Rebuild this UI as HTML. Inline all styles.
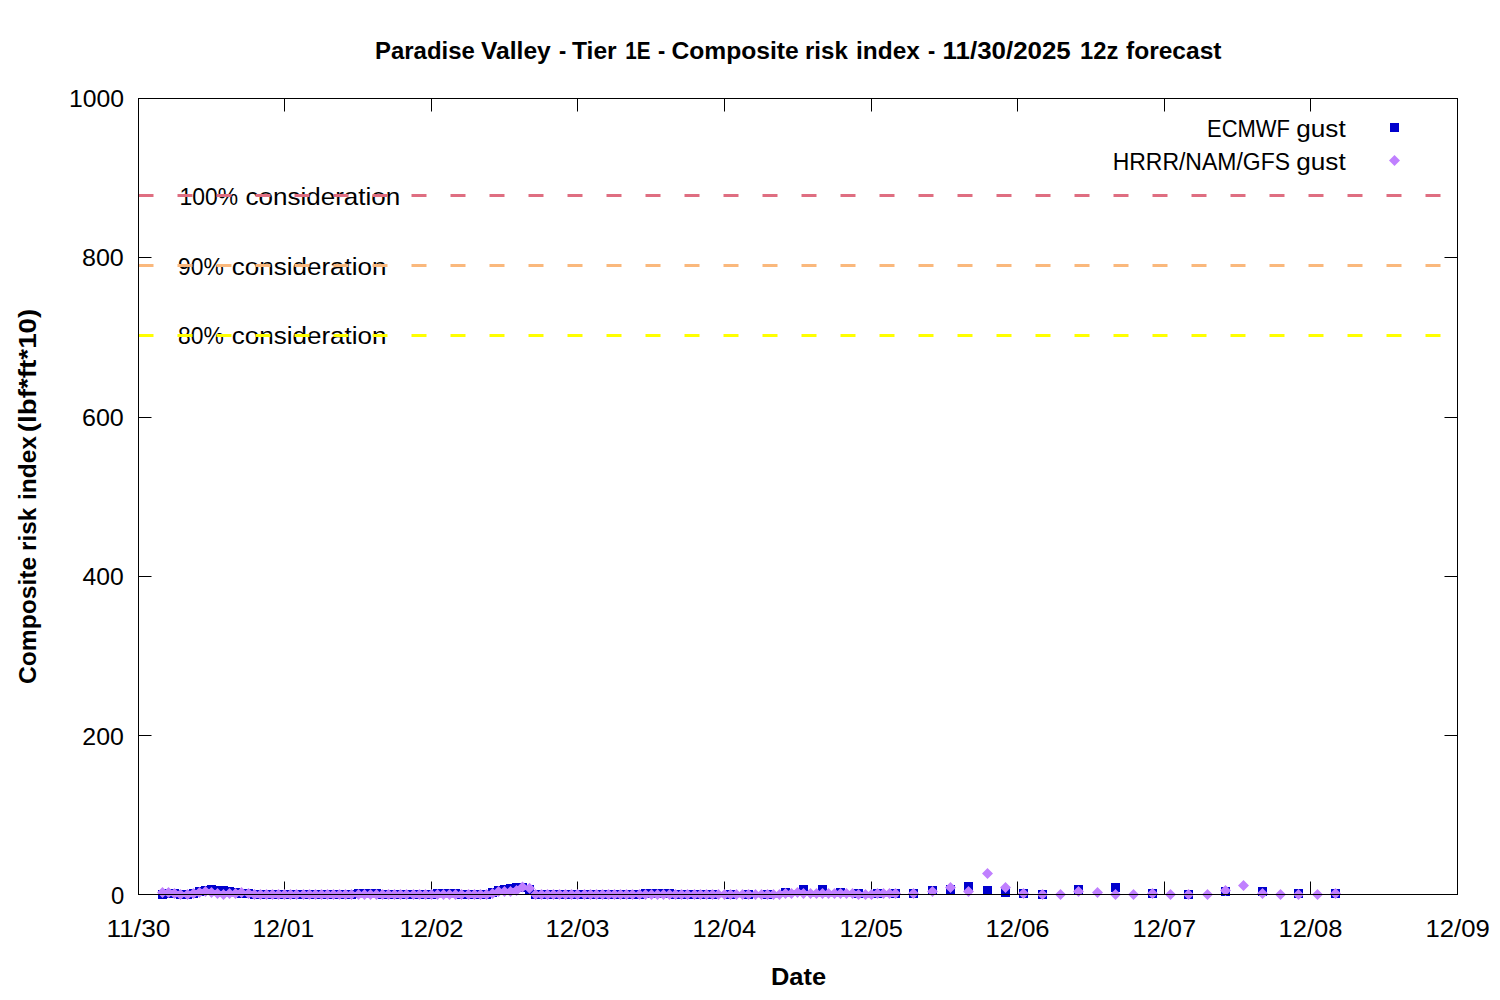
<!DOCTYPE html>
<html><head><meta charset="utf-8"><title>Composite risk index</title>
<style>
html,body{margin:0;padding:0;background:#fff;}
svg{display:block;font-family:"Liberation Sans",sans-serif;fill:#000;}
</style></head><body>
<svg width="1500" height="1000" viewBox="0 0 1500 1000">
<rect width="1500" height="1000" fill="#fff"/>
<g><text x="179.58" y="204.6" font-size="24.8" textLength="58.47" lengthAdjust="spacingAndGlyphs">100%</text><text x="245.45" y="204.6" font-size="24.8" textLength="154.88" lengthAdjust="spacingAndGlyphs">consideration</text><text x="178.08" y="274.6" font-size="24.8" textLength="45.66" lengthAdjust="spacingAndGlyphs">90%</text><text x="231.75" y="274.6" font-size="24.8" textLength="154.78" lengthAdjust="spacingAndGlyphs">consideration</text><text x="178.08" y="344.4" font-size="24.8" textLength="45.66" lengthAdjust="spacingAndGlyphs">80%</text><text x="231.75" y="344.4" font-size="24.8" textLength="154.78" lengthAdjust="spacingAndGlyphs">consideration</text></g>
<path d="M138.5 195.5H1457.5" stroke="#df6e81" stroke-width="3" stroke-dasharray="15 24" fill="none"/><path d="M138.5 265.5H1457.5" stroke="#fab87c" stroke-width="3" stroke-dasharray="15 24" fill="none"/><path d="M138.5 335.5H1457.5" stroke="#ffff00" stroke-width="3" stroke-dasharray="15 24" fill="none"/>
<path stroke="#000" stroke-width="1" fill="none" d="M284.50 894.5v-13M284.50 98.5v13M431.50 894.5v-13M431.50 98.5v13M577.50 894.5v-13M577.50 98.5v13M724.50 894.5v-13M724.50 98.5v13M871.50 894.5v-13M871.50 98.5v13M1017.50 894.5v-13M1017.50 98.5v13M1164.50 894.5v-13M1164.50 98.5v13M1310.50 894.5v-13M1310.50 98.5v13M138.5 735.50h13M1457.5 735.50h-13M138.5 576.50h13M1457.5 576.50h-13M138.5 417.50h13M1457.5 417.50h-13M138.5 257.50h13M1457.5 257.50h-13"/>
<g fill="#0000cd"><rect x="158" y="890" width="9" height="9"/><rect x="164" y="889" width="9" height="9"/><rect x="170" y="889" width="9" height="9"/><rect x="176" y="890" width="9" height="9"/><rect x="183" y="890" width="9" height="9"/><rect x="189" y="889" width="9" height="9"/><rect x="195" y="887" width="9" height="9"/><rect x="201" y="886" width="9" height="9"/><rect x="207" y="885" width="9" height="9"/><rect x="213" y="886" width="9" height="9"/><rect x="219" y="886" width="9" height="9"/><rect x="225" y="887" width="9" height="9"/><rect x="231" y="888" width="9" height="9"/><rect x="237" y="889" width="9" height="9"/><rect x="244" y="889" width="9" height="9"/><rect x="250" y="890" width="9" height="9"/><rect x="256" y="890" width="9" height="9"/><rect x="262" y="890" width="9" height="9"/><rect x="268" y="890" width="9" height="9"/><rect x="274" y="890" width="9" height="9"/><rect x="280" y="890" width="9" height="9"/><rect x="286" y="890" width="9" height="9"/><rect x="292" y="890" width="9" height="9"/><rect x="299" y="890" width="9" height="9"/><rect x="305" y="890" width="9" height="9"/><rect x="311" y="890" width="9" height="9"/><rect x="317" y="890" width="9" height="9"/><rect x="323" y="890" width="9" height="9"/><rect x="329" y="890" width="9" height="9"/><rect x="335" y="890" width="9" height="9"/><rect x="341" y="890" width="9" height="9"/><rect x="347" y="890" width="9" height="9"/><rect x="354" y="889" width="9" height="9"/><rect x="360" y="889" width="9" height="9"/><rect x="366" y="889" width="9" height="9"/><rect x="372" y="889" width="9" height="9"/><rect x="378" y="890" width="9" height="9"/><rect x="384" y="890" width="9" height="9"/><rect x="390" y="890" width="9" height="9"/><rect x="396" y="890" width="9" height="9"/><rect x="402" y="890" width="9" height="9"/><rect x="409" y="890" width="9" height="9"/><rect x="415" y="890" width="9" height="9"/><rect x="421" y="890" width="9" height="9"/><rect x="427" y="890" width="9" height="9"/><rect x="433" y="889" width="9" height="9"/><rect x="439" y="889" width="9" height="9"/><rect x="445" y="889" width="9" height="9"/><rect x="451" y="889" width="9" height="9"/><rect x="457" y="890" width="9" height="9"/><rect x="464" y="890" width="9" height="9"/><rect x="470" y="890" width="9" height="9"/><rect x="476" y="890" width="9" height="9"/><rect x="482" y="890" width="9" height="9"/><rect x="488" y="888" width="9" height="9"/><rect x="494" y="886" width="9" height="9"/><rect x="500" y="885" width="9" height="9"/><rect x="506" y="884" width="9" height="9"/><rect x="512" y="883" width="9" height="9"/><rect x="518" y="883" width="9" height="9"/><rect x="525" y="885" width="9" height="9"/><rect x="531" y="890" width="9" height="9"/><rect x="537" y="890" width="9" height="9"/><rect x="543" y="890" width="9" height="9"/><rect x="549" y="890" width="9" height="9"/><rect x="555" y="890" width="9" height="9"/><rect x="561" y="890" width="9" height="9"/><rect x="567" y="890" width="9" height="9"/><rect x="573" y="890" width="9" height="9"/><rect x="580" y="890" width="9" height="9"/><rect x="586" y="890" width="9" height="9"/><rect x="592" y="890" width="9" height="9"/><rect x="598" y="890" width="9" height="9"/><rect x="604" y="890" width="9" height="9"/><rect x="610" y="890" width="9" height="9"/><rect x="616" y="890" width="9" height="9"/><rect x="622" y="890" width="9" height="9"/><rect x="628" y="890" width="9" height="9"/><rect x="635" y="890" width="9" height="9"/><rect x="641" y="889" width="9" height="9"/><rect x="647" y="889" width="9" height="9"/><rect x="653" y="889" width="9" height="9"/><rect x="659" y="889" width="9" height="9"/><rect x="665" y="889" width="9" height="9"/><rect x="671" y="890" width="9" height="9"/><rect x="677" y="890" width="9" height="9"/><rect x="683" y="890" width="9" height="9"/><rect x="690" y="890" width="9" height="9"/><rect x="696" y="890" width="9" height="9"/><rect x="702" y="890" width="9" height="9"/><rect x="708" y="890" width="9" height="9"/><rect x="726" y="890" width="9" height="9"/><rect x="744" y="890" width="9" height="9"/><rect x="763" y="890" width="9" height="9"/><rect x="781" y="888" width="9" height="9"/><rect x="799" y="885" width="9" height="9"/><rect x="818" y="885" width="9" height="9"/><rect x="836" y="888" width="9" height="9"/><rect x="854" y="889" width="9" height="9"/><rect x="873" y="889" width="9" height="9"/><rect x="891" y="889" width="9" height="9"/><rect x="909" y="889" width="9" height="9"/><rect x="928" y="886" width="9" height="9"/><rect x="946" y="885" width="9" height="9"/><rect x="964" y="882" width="9" height="9"/><rect x="983" y="886" width="9" height="9"/><rect x="1001" y="888" width="9" height="9"/><rect x="1019" y="889" width="9" height="9"/><rect x="1038" y="890" width="9" height="9"/><rect x="1074" y="885" width="9" height="9"/><rect x="1111" y="883" width="9" height="9"/><rect x="1148" y="889" width="9" height="9"/><rect x="1184" y="890" width="9" height="9"/><rect x="1221" y="887" width="9" height="9"/><rect x="1258" y="887" width="9" height="9"/><rect x="1294" y="889" width="9" height="9"/><rect x="1331" y="889" width="9" height="9"/></g>
<path fill="#c080ff" d="M162.50 887.00l5.5 5.5l-5.5 5.5l-5.5 -5.5zM168.50 887.00l5.5 5.5l-5.5 5.5l-5.5 -5.5zM174.50 888.00l5.5 5.5l-5.5 5.5l-5.5 -5.5zM180.50 889.00l5.5 5.5l-5.5 5.5l-5.5 -5.5zM187.50 889.00l5.5 5.5l-5.5 5.5l-5.5 -5.5zM193.50 888.00l5.5 5.5l-5.5 5.5l-5.5 -5.5zM199.50 887.00l5.5 5.5l-5.5 5.5l-5.5 -5.5zM205.50 886.00l5.5 5.5l-5.5 5.5l-5.5 -5.5zM211.50 887.00l5.5 5.5l-5.5 5.5l-5.5 -5.5zM217.50 888.00l5.5 5.5l-5.5 5.5l-5.5 -5.5zM223.50 889.00l5.5 5.5l-5.5 5.5l-5.5 -5.5zM229.50 888.00l5.5 5.5l-5.5 5.5l-5.5 -5.5zM235.50 888.00l5.5 5.5l-5.5 5.5l-5.5 -5.5zM241.50 887.00l5.5 5.5l-5.5 5.5l-5.5 -5.5zM248.50 888.00l5.5 5.5l-5.5 5.5l-5.5 -5.5zM254.50 889.00l5.5 5.5l-5.5 5.5l-5.5 -5.5zM260.50 889.00l5.5 5.5l-5.5 5.5l-5.5 -5.5zM266.50 889.00l5.5 5.5l-5.5 5.5l-5.5 -5.5zM272.50 889.00l5.5 5.5l-5.5 5.5l-5.5 -5.5zM278.50 889.00l5.5 5.5l-5.5 5.5l-5.5 -5.5zM284.50 889.00l5.5 5.5l-5.5 5.5l-5.5 -5.5zM290.50 889.00l5.5 5.5l-5.5 5.5l-5.5 -5.5zM296.50 889.00l5.5 5.5l-5.5 5.5l-5.5 -5.5zM303.50 889.00l5.5 5.5l-5.5 5.5l-5.5 -5.5zM309.50 889.00l5.5 5.5l-5.5 5.5l-5.5 -5.5zM315.50 889.00l5.5 5.5l-5.5 5.5l-5.5 -5.5zM321.50 889.00l5.5 5.5l-5.5 5.5l-5.5 -5.5zM327.50 889.00l5.5 5.5l-5.5 5.5l-5.5 -5.5zM333.50 889.00l5.5 5.5l-5.5 5.5l-5.5 -5.5zM339.50 889.00l5.5 5.5l-5.5 5.5l-5.5 -5.5zM345.50 889.00l5.5 5.5l-5.5 5.5l-5.5 -5.5zM351.50 889.00l5.5 5.5l-5.5 5.5l-5.5 -5.5zM358.50 889.00l5.5 5.5l-5.5 5.5l-5.5 -5.5zM364.50 889.00l5.5 5.5l-5.5 5.5l-5.5 -5.5zM370.50 889.00l5.5 5.5l-5.5 5.5l-5.5 -5.5zM376.50 889.00l5.5 5.5l-5.5 5.5l-5.5 -5.5zM382.50 889.00l5.5 5.5l-5.5 5.5l-5.5 -5.5zM388.50 889.00l5.5 5.5l-5.5 5.5l-5.5 -5.5zM394.50 889.00l5.5 5.5l-5.5 5.5l-5.5 -5.5zM400.50 889.00l5.5 5.5l-5.5 5.5l-5.5 -5.5zM406.50 889.00l5.5 5.5l-5.5 5.5l-5.5 -5.5zM413.50 889.00l5.5 5.5l-5.5 5.5l-5.5 -5.5zM419.50 889.00l5.5 5.5l-5.5 5.5l-5.5 -5.5zM425.50 889.00l5.5 5.5l-5.5 5.5l-5.5 -5.5zM431.50 889.00l5.5 5.5l-5.5 5.5l-5.5 -5.5zM437.50 889.00l5.5 5.5l-5.5 5.5l-5.5 -5.5zM443.50 889.00l5.5 5.5l-5.5 5.5l-5.5 -5.5zM449.50 889.00l5.5 5.5l-5.5 5.5l-5.5 -5.5zM455.50 889.00l5.5 5.5l-5.5 5.5l-5.5 -5.5zM461.50 889.00l5.5 5.5l-5.5 5.5l-5.5 -5.5zM468.50 889.00l5.5 5.5l-5.5 5.5l-5.5 -5.5zM474.50 889.00l5.5 5.5l-5.5 5.5l-5.5 -5.5zM480.50 889.00l5.5 5.5l-5.5 5.5l-5.5 -5.5zM486.50 889.00l5.5 5.5l-5.5 5.5l-5.5 -5.5zM492.50 888.00l5.5 5.5l-5.5 5.5l-5.5 -5.5zM498.50 886.00l5.5 5.5l-5.5 5.5l-5.5 -5.5zM504.50 886.00l5.5 5.5l-5.5 5.5l-5.5 -5.5zM510.50 886.00l5.5 5.5l-5.5 5.5l-5.5 -5.5zM516.50 885.00l5.5 5.5l-5.5 5.5l-5.5 -5.5zM522.50 881.40l5.5 5.5l-5.5 5.5l-5.5 -5.5zM529.50 882.70l5.5 5.5l-5.5 5.5l-5.5 -5.5zM535.50 889.00l5.5 5.5l-5.5 5.5l-5.5 -5.5zM541.50 889.00l5.5 5.5l-5.5 5.5l-5.5 -5.5zM547.50 889.00l5.5 5.5l-5.5 5.5l-5.5 -5.5zM553.50 889.00l5.5 5.5l-5.5 5.5l-5.5 -5.5zM559.50 889.00l5.5 5.5l-5.5 5.5l-5.5 -5.5zM565.50 889.00l5.5 5.5l-5.5 5.5l-5.5 -5.5zM571.50 889.00l5.5 5.5l-5.5 5.5l-5.5 -5.5zM577.50 889.00l5.5 5.5l-5.5 5.5l-5.5 -5.5zM584.50 889.00l5.5 5.5l-5.5 5.5l-5.5 -5.5zM590.50 889.00l5.5 5.5l-5.5 5.5l-5.5 -5.5zM596.50 889.00l5.5 5.5l-5.5 5.5l-5.5 -5.5zM602.50 889.00l5.5 5.5l-5.5 5.5l-5.5 -5.5zM608.50 889.00l5.5 5.5l-5.5 5.5l-5.5 -5.5zM614.50 889.00l5.5 5.5l-5.5 5.5l-5.5 -5.5zM620.50 889.00l5.5 5.5l-5.5 5.5l-5.5 -5.5zM626.50 889.00l5.5 5.5l-5.5 5.5l-5.5 -5.5zM632.50 889.00l5.5 5.5l-5.5 5.5l-5.5 -5.5zM639.50 889.00l5.5 5.5l-5.5 5.5l-5.5 -5.5zM645.50 889.00l5.5 5.5l-5.5 5.5l-5.5 -5.5zM651.50 889.00l5.5 5.5l-5.5 5.5l-5.5 -5.5zM657.50 889.00l5.5 5.5l-5.5 5.5l-5.5 -5.5zM663.50 889.00l5.5 5.5l-5.5 5.5l-5.5 -5.5zM669.50 889.00l5.5 5.5l-5.5 5.5l-5.5 -5.5zM675.50 889.00l5.5 5.5l-5.5 5.5l-5.5 -5.5zM681.50 889.00l5.5 5.5l-5.5 5.5l-5.5 -5.5zM687.50 889.00l5.5 5.5l-5.5 5.5l-5.5 -5.5zM694.50 889.00l5.5 5.5l-5.5 5.5l-5.5 -5.5zM700.50 889.00l5.5 5.5l-5.5 5.5l-5.5 -5.5zM706.50 889.00l5.5 5.5l-5.5 5.5l-5.5 -5.5zM712.50 889.00l5.5 5.5l-5.5 5.5l-5.5 -5.5zM718.50 889.00l5.5 5.5l-5.5 5.5l-5.5 -5.5zM724.50 889.00l5.5 5.5l-5.5 5.5l-5.5 -5.5zM730.50 889.00l5.5 5.5l-5.5 5.5l-5.5 -5.5zM736.50 889.00l5.5 5.5l-5.5 5.5l-5.5 -5.5zM742.50 889.00l5.5 5.5l-5.5 5.5l-5.5 -5.5zM748.50 889.00l5.5 5.5l-5.5 5.5l-5.5 -5.5zM755.50 889.00l5.5 5.5l-5.5 5.5l-5.5 -5.5zM761.50 889.00l5.5 5.5l-5.5 5.5l-5.5 -5.5zM767.50 889.00l5.5 5.5l-5.5 5.5l-5.5 -5.5zM773.50 889.00l5.5 5.5l-5.5 5.5l-5.5 -5.5zM779.50 889.00l5.5 5.5l-5.5 5.5l-5.5 -5.5zM785.50 888.00l5.5 5.5l-5.5 5.5l-5.5 -5.5zM791.50 888.00l5.5 5.5l-5.5 5.5l-5.5 -5.5zM797.50 887.00l5.5 5.5l-5.5 5.5l-5.5 -5.5zM803.50 888.00l5.5 5.5l-5.5 5.5l-5.5 -5.5zM810.50 888.00l5.5 5.5l-5.5 5.5l-5.5 -5.5zM816.50 888.00l5.5 5.5l-5.5 5.5l-5.5 -5.5zM822.50 888.00l5.5 5.5l-5.5 5.5l-5.5 -5.5zM828.50 888.00l5.5 5.5l-5.5 5.5l-5.5 -5.5zM834.50 888.00l5.5 5.5l-5.5 5.5l-5.5 -5.5zM840.50 888.00l5.5 5.5l-5.5 5.5l-5.5 -5.5zM846.50 888.00l5.5 5.5l-5.5 5.5l-5.5 -5.5zM852.50 888.00l5.5 5.5l-5.5 5.5l-5.5 -5.5zM858.50 889.00l5.5 5.5l-5.5 5.5l-5.5 -5.5zM865.50 889.00l5.5 5.5l-5.5 5.5l-5.5 -5.5zM871.50 889.00l5.5 5.5l-5.5 5.5l-5.5 -5.5zM877.50 888.00l5.5 5.5l-5.5 5.5l-5.5 -5.5zM883.50 888.00l5.5 5.5l-5.5 5.5l-5.5 -5.5zM889.50 888.00l5.5 5.5l-5.5 5.5l-5.5 -5.5zM895.50 888.00l5.5 5.5l-5.5 5.5l-5.5 -5.5zM913.50 888.00l5.5 5.5l-5.5 5.5l-5.5 -5.5zM932.50 886.00l5.5 5.5l-5.5 5.5l-5.5 -5.5zM950.50 882.00l5.5 5.5l-5.5 5.5l-5.5 -5.5zM968.50 886.00l5.5 5.5l-5.5 5.5l-5.5 -5.5zM987.50 868.00l5.5 5.5l-5.5 5.5l-5.5 -5.5zM1005.50 882.00l5.5 5.5l-5.5 5.5l-5.5 -5.5zM1023.50 888.00l5.5 5.5l-5.5 5.5l-5.5 -5.5zM1042.50 889.00l5.5 5.5l-5.5 5.5l-5.5 -5.5zM1060.50 889.00l5.5 5.5l-5.5 5.5l-5.5 -5.5zM1078.50 886.00l5.5 5.5l-5.5 5.5l-5.5 -5.5zM1097.50 887.00l5.5 5.5l-5.5 5.5l-5.5 -5.5zM1115.50 889.00l5.5 5.5l-5.5 5.5l-5.5 -5.5zM1133.50 889.00l5.5 5.5l-5.5 5.5l-5.5 -5.5zM1152.50 888.00l5.5 5.5l-5.5 5.5l-5.5 -5.5zM1170.50 889.00l5.5 5.5l-5.5 5.5l-5.5 -5.5zM1188.50 889.00l5.5 5.5l-5.5 5.5l-5.5 -5.5zM1207.50 889.00l5.5 5.5l-5.5 5.5l-5.5 -5.5zM1225.50 885.00l5.5 5.5l-5.5 5.5l-5.5 -5.5zM1243.50 880.00l5.5 5.5l-5.5 5.5l-5.5 -5.5zM1262.50 888.00l5.5 5.5l-5.5 5.5l-5.5 -5.5zM1280.50 889.00l5.5 5.5l-5.5 5.5l-5.5 -5.5zM1298.50 889.00l5.5 5.5l-5.5 5.5l-5.5 -5.5zM1317.50 889.00l5.5 5.5l-5.5 5.5l-5.5 -5.5zM1335.50 888.00l5.5 5.5l-5.5 5.5l-5.5 -5.5z"/>
<rect x="1390.0" y="123.0" width="9.0" height="9.0" fill="#0000cd"/><path fill="#c080ff" d="M1394.5 155.0l5.5 5.5l-5.5 5.5l-5.5 -5.5z"/>
<rect x="138.5" y="98.5" width="1319.0" height="796.0" fill="none" stroke="#000" stroke-width="1"/>
<g><text x="375.04" y="58.5" font-size="24.8" font-weight="bold" textLength="99.73" lengthAdjust="spacingAndGlyphs">Paradise</text><text x="481.0" y="58.5" font-size="24.8" font-weight="bold" textLength="69.79" lengthAdjust="spacingAndGlyphs">Valley</text><text x="559.0" y="58.5" font-size="24.8" font-weight="bold" textLength="7.23" lengthAdjust="spacingAndGlyphs">-</text><text x="572.0" y="58.5" font-size="24.8" font-weight="bold" textLength="44.65" lengthAdjust="spacingAndGlyphs">Tier</text><text x="625.17" y="58.5" font-size="24.8" font-weight="bold" textLength="25.28" lengthAdjust="spacingAndGlyphs">1E</text><text x="658.0" y="58.5" font-size="24.8" font-weight="bold" textLength="7.23" lengthAdjust="spacingAndGlyphs">-</text><text x="671.41" y="58.5" font-size="24.8" font-weight="bold" textLength="127.38" lengthAdjust="spacingAndGlyphs">Composite</text><text x="805.03" y="58.5" font-size="24.8" font-weight="bold" textLength="42.77" lengthAdjust="spacingAndGlyphs">risk</text><text x="856.02" y="58.5" font-size="24.8" font-weight="bold" textLength="63.78" lengthAdjust="spacingAndGlyphs">index</text><text x="928.0" y="58.5" font-size="24.8" font-weight="bold" textLength="7.23" lengthAdjust="spacingAndGlyphs">-</text><text x="942.56" y="58.5" font-size="24.8" font-weight="bold" textLength="128.23" lengthAdjust="spacingAndGlyphs">11/30/2025</text><text x="1080.04" y="58.5" font-size="24.8" font-weight="bold" textLength="38.34" lengthAdjust="spacingAndGlyphs">12z</text><text x="1126.0" y="58.5" font-size="24.8" font-weight="bold" textLength="95.45" lengthAdjust="spacingAndGlyphs">forecast</text><text x="110.9" y="903.9" font-size="24.8" textLength="13.26" lengthAdjust="spacingAndGlyphs">0</text><text x="82.3" y="744.52" font-size="24.8" textLength="41.5" lengthAdjust="spacingAndGlyphs">200</text><text x="82.6" y="585.14" font-size="24.8" textLength="41.19" lengthAdjust="spacingAndGlyphs">400</text><text x="81.99" y="425.76" font-size="24.8" textLength="41.81" lengthAdjust="spacingAndGlyphs">600</text><text x="81.99" y="266.38" font-size="24.8" textLength="41.81" lengthAdjust="spacingAndGlyphs">800</text><text x="69.0" y="107.0" font-size="24.8" textLength="55.09" lengthAdjust="spacingAndGlyphs">1000</text><text x="106.54" y="936.6" font-size="24.8" textLength="63.9" lengthAdjust="spacingAndGlyphs">11/30</text><text x="252.61" y="936.6" font-size="24.8" textLength="61.47" lengthAdjust="spacingAndGlyphs">12/01</text><text x="399.57" y="936.6" font-size="24.8" textLength="64.05" lengthAdjust="spacingAndGlyphs">12/02</text><text x="545.57" y="936.6" font-size="24.8" textLength="64.05" lengthAdjust="spacingAndGlyphs">12/03</text><text x="692.58" y="936.6" font-size="24.8" textLength="63.51" lengthAdjust="spacingAndGlyphs">12/04</text><text x="839.58" y="936.6" font-size="24.8" textLength="63.33" lengthAdjust="spacingAndGlyphs">12/05</text><text x="985.57" y="936.6" font-size="24.8" textLength="64.05" lengthAdjust="spacingAndGlyphs">12/06</text><text x="1132.58" y="936.6" font-size="24.8" textLength="63.53" lengthAdjust="spacingAndGlyphs">12/07</text><text x="1278.57" y="936.6" font-size="24.8" textLength="63.95" lengthAdjust="spacingAndGlyphs">12/08</text><text x="1425.56" y="936.6" font-size="24.8" textLength="64.25" lengthAdjust="spacingAndGlyphs">12/09</text><text x="770.97" y="985" font-size="24.8" font-weight="bold" textLength="55.14" lengthAdjust="spacingAndGlyphs">Date</text><g transform="translate(36.0 683) rotate(-90)"><text x="-0.99" y="0" font-size="24.8" font-weight="bold" textLength="127.08" lengthAdjust="spacingAndGlyphs">Composite</text><text x="132.02" y="0" font-size="24.8" font-weight="bold" textLength="43.17" lengthAdjust="spacingAndGlyphs">risk</text><text x="183.02" y="0" font-size="24.8" font-weight="bold" textLength="63.78" lengthAdjust="spacingAndGlyphs">index</text><text x="250.88" y="0" font-size="24.8" font-weight="bold" textLength="123.41" lengthAdjust="spacingAndGlyphs">(lbf*ft*10)</text></g><text x="1207.03" y="137.3" font-size="24.8" textLength="83.0" lengthAdjust="spacingAndGlyphs">ECMWF</text><text x="1296.25" y="137.3" font-size="24.8" textLength="49.44" lengthAdjust="spacingAndGlyphs">gust</text><text x="1112.65" y="169.9" font-size="24.8" textLength="177.35" lengthAdjust="spacingAndGlyphs">HRRR/NAM/GFS</text><text x="1296.25" y="169.9" font-size="24.8" textLength="49.44" lengthAdjust="spacingAndGlyphs">gust</text></g>
</svg>
</body></html>
